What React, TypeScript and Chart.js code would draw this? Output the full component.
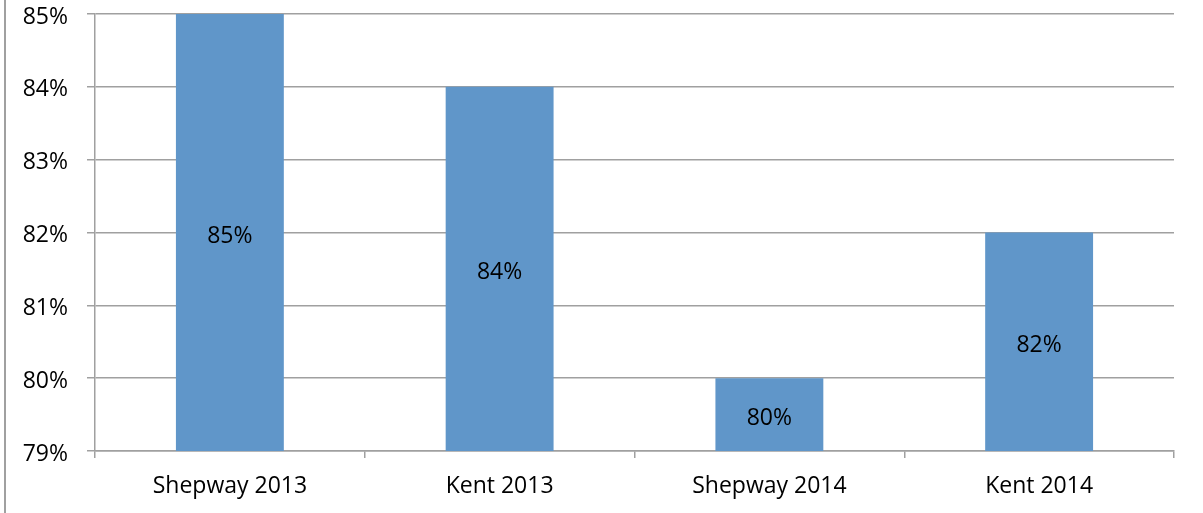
import React, { useEffect, useRef } from "react";
import { Chart, registerables } from "chart.js";

Chart.register(...registerables);

const categories = ["Shepway 2013", "Kent 2013", "Shepway 2014", "Kent 2014"];
const values = [85, 84, 80, 82];
const yMin = 79;
const yMax = 85;

const FONT = "'Open Sans', 'Noto Sans', sans-serif";
const FONT_SIZE = 23;

const labelPlugin = {
  id: "barLabels",
  afterDraw(chart: any) {
    const ctx = chart.ctx;
    const xs = chart.scales.x;
    const ys = chart.scales.y;
    const base = ys.getPixelForValue(yMin);
    ctx.save();
    ctx.fillStyle = "#000";
    ctx.font = FONT_SIZE + "px " + FONT;
    ctx.textAlign = "center";
    ctx.textBaseline = "alphabetic";
    values.forEach((v, i) => {
      const x = xs.getPixelForValue(i);
      const top = ys.getPixelForValue(v);
      const y = (top + base) / 2 + 0.36 * FONT_SIZE + 2;
      ctx.fillText(v + "%", x, y);
    });
    ctx.restore();
  },
};

const borderPlugin = {
  id: "leftBorder",
  afterDraw(chart: any) {
    const ctx = chart.ctx;
    ctx.save();
    ctx.strokeStyle = "#A0A0A0";
    ctx.lineWidth = 2;
    ctx.beginPath();
    ctx.moveTo(5, 0);
    ctx.lineTo(5, chart.height);
    ctx.stroke();
    ctx.restore();
  },
};

export default function App() {
  const ref = useRef<HTMLCanvasElement>(null);
  useEffect(() => {
    document.body.style.margin = "0";
    const chart = new Chart(ref.current!, {
      type: "bar",
      data: {
        labels: categories,
        datasets: [
          {
            data: values,
            backgroundColor: "#6096C9",
            barPercentage: 0.4,
            categoryPercentage: 1,
          },
        ],
      },
      options: {
        animation: false,
        responsive: false,
        maintainAspectRatio: false,
        layout: { padding: { top: 0, right: 29, left: 0, bottom: 0 } },
        plugins: { legend: { display: false }, tooltip: { enabled: false } },
        scales: {
          x: {
            offset: true,
            grid: {
              offset: true,
              drawOnChartArea: false,
              drawTicks: true,
              tickLength: 7,
              color: "#A0A0A0",
              lineWidth: 1.5,
            },
            border: { color: "#A0A0A0", width: 1.5 },
            ticks: {
              color: "#000",
              font: { family: FONT, size: FONT_SIZE },
              padding: 15,
            },
            afterFit(scale: any) {
              scale.height = 62;
              scale.paddingLeft = 0;
              scale.paddingRight = 0;
            },
          },
          y: {
            min: yMin,
            max: yMax,
            grid: {
              color: "#A0A0A0",
              lineWidth: 1.5,
              tickLength: 8,
            },
            border: { color: "#A0A0A0", width: 1.5 },
            ticks: {
              stepSize: 1,
              color: "#000",
              font: { family: FONT, size: FONT_SIZE },
              padding: 19,
              labelOffset: 3,
              callback: (v: any) => v + "%",
            },
            afterFit(scale: any) {
              scale.width = 95;
              scale.paddingTop = 14;
              scale.paddingBottom = 0;
            },
          },
        },
      },
      plugins: [labelPlugin, borderPlugin],
    });
    return () => chart.destroy();
  }, []);
  return (
    <div style={{ position: "absolute", left: 0, top: 0, width: 1203, height: 513, background: "#fff" }}>
      <canvas ref={ref} width={1203} height={513} />
    </div>
  );
}
